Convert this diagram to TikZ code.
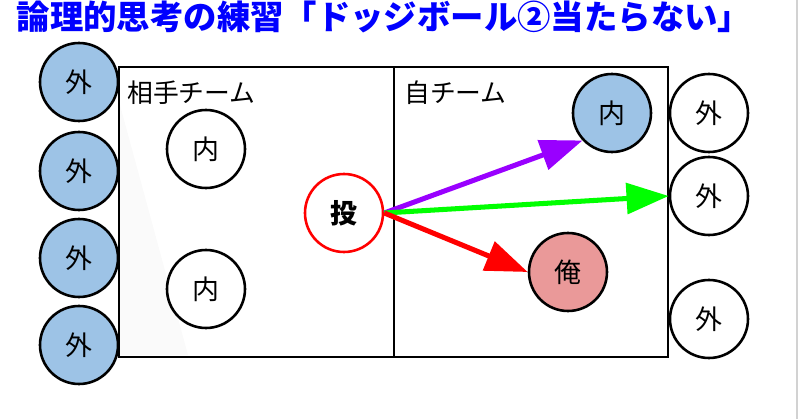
\documentclass[tikz,border=0pt]{standalone}
\usepackage{fontspec}
\usepackage{xcolor}
\usepackage{tikz}
\usetikzlibrary{arrows.meta}
\setmainfont{Noto Sans CJK JP}
\definecolor{ballblue}{HTML}{9DC3E6}
\definecolor{mepink}{HTML}{EA9999}
\definecolor{throwpurple}{HTML}{9900FF}
\definecolor{passgreen}{HTML}{00FF00}

\begin{document}
\begin{tikzpicture}[x=0.03cm,y=-0.03cm]
		\useasboundingbox (0,0) rectangle (800,419);
		\draw[gray!35,line width=1.5pt] (797,0) -- (797,419);
		% court
		\fill[black!2] (120,105) -- (188,355) -- (120,355) -- cycle;
		\draw[line width=2.2pt] (119,67) rectangle (668,357);
		\draw[line width=2.2pt] (394,67) -- (394,357);
		\node[anchor=west,font=\fontsize{22}{24}\selectfont,inner sep=0pt] (h) at (127,93) {相手チーム};
		\node[anchor=west,font=\fontsize{22}{24}\selectfont,inner sep=0pt] (s) at (404,93) {自チーム};
		\node[text=blue,font=\fontsize{28.5}{30}\selectfont\bfseries,inner sep=0pt] (title) at (384,17) {論理的思考の練習「ドッジボール②当たらない」};
		\tikzstyle{every node}+=[draw,line width=2.2pt,circle,inner sep=0pt,minimum size=2.34cm,fill=white,font=\fontsize{23}{25}\selectfont]
		\node[fill=ballblue] (a) at (79,82)  {外};
		\node[fill=ballblue] (b) at (79,171) {外};
		\node[fill=ballblue] (c) at (79,258) {外};
		\node[fill=ballblue] (d) at (79,345) {外};
		\node (e) at (206,149) {内};
		\node (f) at (206,289) {内};
		\node[draw=red,font=\fontsize{23}{25}\selectfont\bfseries] (t) at (344,213) {投};
		\node[fill=ballblue] (u) at (612,113) {内};
		\node[fill=mepink] (me) at (568,272) {俺};
		\node (r1) at (709,113) {外};
		\node (r2) at (709,196) {外};
		\node (r3) at (709,319) {外};
		\tikzstyle{every edge}+=[-{Triangle[length=36pt,width=26pt]},line width=4.3pt]
		\draw
		(t.east) edge[throwpurple] (u.223)
		(t.east) edge[passgreen] (r2.west)
		(t.east) edge[red] (me.west)
		;
	\end{tikzpicture}
\end{document}
